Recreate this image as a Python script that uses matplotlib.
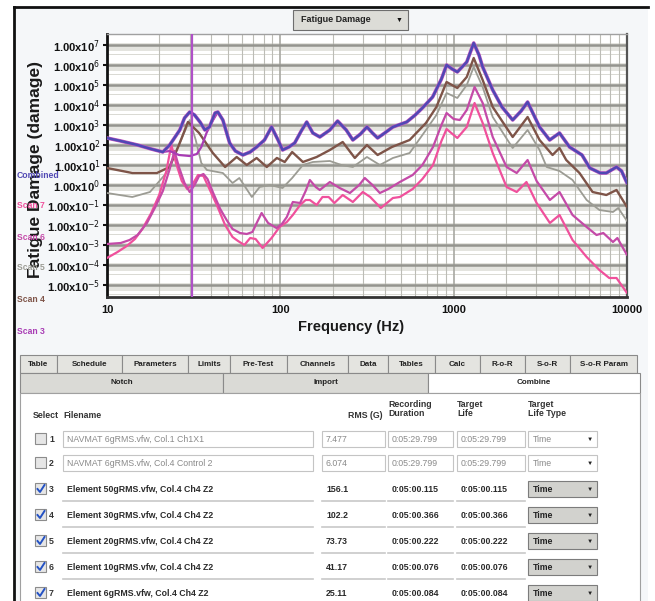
import numpy as np
import matplotlib.pyplot as plt
from matplotlib.patches import Rectangle

plt.rcParams['font.family'] = ['Liberation Sans', 'DejaVu Sans']

W, H = 655, 601

# ---- chart data: frequency (Hz) and log10 of fatigue damage
combined_f = [10, 12, 15, 18, 21, 23, 26.3, 28, 30, 32, 34.4, 36.7, 39, 42, 43.6, 46.6, 51, 55, 60.8, 67,
              73, 81, 89, 97, 103, 112, 121, 132, 142, 154, 169, 193, 214, 240, 262, 290, 316, 340, 364, 400,
              446, 536, 600, 660, 756, 850, 910, 980, 1050, 1190, 1305, 1400, 1470, 1680, 1900, 2190, 2450,
              2670, 2900, 3130, 3580, 4080, 4660, 5500, 6100, 7000, 7600, 8700, 9300, 10000]
combined_e = [2.35, 2.2, 2.0, 1.8, 1.65, 2.0, 2.75, 3.35, 3.65, 3.5, 3.15, 2.75, 2.9, 3.6, 3.65, 3.25, 2.1, 1.7,
              1.5, 1.65, 1.9, 2.25, 2.9, 2.25, 1.75, 1.9, 2.1, 2.7, 3.15, 2.6, 2.4, 2.75, 3.2, 2.75, 2.25, 2.55,
              2.9, 2.6, 2.35, 2.6, 2.9, 3.15, 3.5, 3.85, 4.4, 5.3, 6.0, 5.8, 5.65, 6.15, 7.1, 6.5, 5.9, 4.75,
              3.9, 3.25, 3.7, 4.15, 3.5, 2.9, 2.25, 2.6, 1.9, 1.5, 0.85, 0.6, 0.6, 0.9, 0.7, 0.1]

# scan 3 follows the combined curve except for a dip under the first peak
scan3_dip_f = [21, 23, 26, 30, 33, 35, 37.5, 40, 43.6]
scan3_dip_e = [1.65, 1.7, 1.5, 1.45, 1.55, 1.9, 2.6, 3.1, 3.65]

scan4_f = [10, 14, 19.4, 23, 26, 29.3, 34, 40.8, 48, 56, 64, 73, 83.5, 95.5, 106, 117, 135, 162, 193, 229,
           269, 316, 364, 440, 557, 692, 795, 910, 1050, 1190, 1305, 1470, 1680, 2190, 2670, 3130, 3720, 4080,
           4460, 5320, 6330, 7600, 8700, 10000]
scan4_e = [0.85, 0.6, 0.6, 0.9, 2.0, 3.15, 2.6, 1.6, 0.9, 1.4, 1.0, 1.35, 0.9, 1.35, 1.15, 1.65, 1.15, 1.4,
           1.75, 2.15, 1.35, 2.0, 1.5, 1.9, 2.25, 3.1, 3.9, 5.15, 4.85, 5.4, 6.35, 5.25, 3.9, 2.4, 3.4, 2.25,
           1.5, 1.85, 1.25, 0.6, -0.35, -0.5, -0.25, -1.1]

scan5_f = [10, 14, 17.7, 22, 26, 30, 32.5, 35, 37.7, 46.6, 53, 58, 68.5, 76, 87, 103, 117, 135, 154, 193,
           225, 262, 316, 375, 446, 557, 692, 795, 910, 1050, 1190, 1305, 1470, 1680, 2190, 2670, 3130, 3440,
           4080, 4850, 5850, 6930, 8300, 8900, 10000]
scan5_e = [-0.4, -0.6, -0.35, 0.6, 2.0, 3.25, 2.25, 1.1, 0.75, 0.6, 0.1, 0.35, -0.6, -0.1, 0.0, -0.15, 0.35,
           1.0, 1.15, 1.2, 1.0, 0.9, 1.4, 1.0, 1.35, 1.6, 2.75, 3.5, 4.6, 4.35, 5.0, 5.9, 4.9, 3.4, 1.85, 2.75,
           1.75, 0.9, 0.7, 0.25, -0.75, -1.25, -1.35, -1.15, -1.8]

scan6_f = [10, 12, 13.5, 15, 17, 19, 21, 23, 24.5, 26, 28, 30, 32, 34, 36, 38, 41, 45, 49, 53, 58.5, 64, 69,
           74, 78, 85, 95, 102, 109, 118, 130, 140, 148, 160, 169, 193, 220, 252, 285, 307, 340, 375, 420, 489,
           580, 660, 760, 850, 910, 1000, 1085, 1190, 1320, 1470, 1680, 2020, 2310, 2670, 3010, 3590, 4080,
           4850, 5850, 6670, 7300, 8300, 8800, 10000]
scan6_e = [-2.95, -2.9, -2.75, -2.5, -1.9, -1.1, -0.3, 0.8, 1.7, 0.9, 0.1, -0.35, 0.0, 0.45, 0.55, 0.3, -0.4,
           -1.2, -1.75, -2.2, -2.4, -2.45, -2.35, -1.8, -1.4, -1.9, -2.15, -1.95, -1.6, -0.85, -0.9, -0.3, 0.25,
           -0.1, -0.25, 0.15, -0.15, -0.4, 0.0, 0.35, 0.0, -0.4, -0.2, 0.15, 0.5, 1.0, 1.9, 3.0, 3.6, 3.3, 3.25,
           3.75, 4.9, 4.1, 2.4, 0.9, 0.6, 1.25, 0.2, -0.75, -0.35, -1.5, -2.1, -2.5, -2.4, -2.85, -2.65, -3.5]

scan7_f = [10, 11.5, 13, 14.5, 16, 18, 20, 22, 23.5, 25, 27, 29, 31, 33.5, 36, 39, 43, 48, 53, 57, 62, 67, 72,
           79, 89, 99, 109, 118, 130, 140, 148, 162, 175, 190, 205, 229, 262, 299, 330, 380, 446, 489, 580, 660,
           760, 850, 910, 1000, 1050, 1190, 1320, 1470, 1680, 2020, 2310, 2630, 3010, 3590, 4080, 4850, 5850,
           6930, 7900, 8700, 10000]
scan7_e = [-3.65, -3.35, -3.05, -2.7, -2.2, -1.4, -0.5, 0.7, 2.0, 1.1, 0.2, -0.2, 0.0, 0.5, 0.45, -0.2, -1.0,
           -2.0, -2.6, -2.8, -3.0, -2.65, -2.7, -3.15, -2.65, -2.1, -1.85, -1.5, -1.0, -0.75, -0.75, -1.0, -0.6,
           -0.6, -0.9, -0.5, -0.85, -0.35, -0.6, -1.15, -0.65, -0.6, -0.2, 0.3, 1.0, 2.2, 2.8, 2.5, 2.35, 2.9,
           4.1, 3.1, 1.6, -0.1, -0.35, 0.15, -0.9, -1.9, -1.5, -2.75, -3.6, -4.25, -4.65, -4.65, -5.4]

cursor_freq = 31
y_exps = [7, 6, 5, 4, 3, 2, 1, 0, -1, -2, -3, -4, -5]
x_ticks = [10, 100, 1000, 10000]
legend_names = ['Combined', 'Scan 7', 'Scan 6', 'Scan 5', 'Scan 4', 'Scan 3']
legend_colors = ['#5048b4', '#f0509c', '#c44aa8', '#9c9c94', '#7e5448', '#a83cb4']

# ---- table panel data
tab_names = ['Table', 'Schedule', 'Parameters', 'Limits', 'Pre-Test', 'Channels', 'Data', 'Tables',
             'Calc', 'R-o-R', 'S-o-R', 'S-o-R Param']
tab_edges = [20, 57, 122, 188, 230, 287, 348, 388, 435, 480, 525, 570, 637]
sub_tabs = ['Notch', 'Import', 'Combine']
filenames = ['NAVMAT 6gRMS.vfw, Col.1 Ch1X1', 'NAVMAT 6gRMS.vfw, Col.4 Control 2',
             'Element 50gRMS.vfw, Col.4 Ch4 Z2', 'Element 30gRMS.vfw, Col.4 Ch4 Z2',
             'Element 20gRMS.vfw, Col.4 Ch4 Z2', 'Element 10gRMS.vfw, Col.4 Ch4 Z2',
             'Element 6gRMS.vfw, Col.4 Ch4 Z2']
rms_vals = ['7.477', '6.074', '156.1', '102.2', '73.73', '41.17', '25.11']
durations = ['0:05:29.799', '0:05:29.799', '0:05:00.115', '0:05:00.366', '0:05:00.222',
             '0:05:00.076', '0:05:00.084']
selected = [False, False, True, True, True, True, True]

fig = plt.figure(figsize=(W / 100, H / 100), dpi=100)

# ---- background / UI layer in pixel coordinates
ui = fig.add_axes([0, 0, 1, 1], zorder=0)
ui.set_xlim(0, W)
ui.set_ylim(H, 0)
ui.axis('off')
ui.add_patch(Rectangle((0, 0), W, H, fc='white', ec='none'))
ui.add_patch(Rectangle((14, 7), 634, 594, fc='#f5f7f9', ec='none'))
ui.plot([14, 648], [7, 7], color='#111111', lw=2)
ui.plot([14, 14], [7, 601], color='#111111', lw=2)

# dropdown above the chart
ui.add_patch(Rectangle((293, 10), 115, 20, fc='#dcdcd7', ec='#6e6e6e', lw=0.8))
ui.text(301, 20, 'Fatigue Damage', fontsize=6.5, fontweight='bold', color='#222', va='center')
ui.text(399, 20, '\u25bc', fontsize=5, color='#111', va='center', ha='center')

# axis title and series names on the left (they overlap in the original screen too)
ui.text(36, 170, 'Fatigue Damage (damage)', rotation=90, fontsize=12.5, fontweight='bold',
        color='#1a1a1a', ha='center', va='center')
for name, col, yy in zip(legend_names, legend_colors, [175, 206, 237, 267, 300, 331]):
    ui.text(17, yy, name, fontsize=6.2, fontweight='bold', color=col, va='center', ha='left')
ui.text(351, 327, 'Frequency (Hz)', fontsize=10.5, fontweight='bold', color='#1a1a1a',
        ha='center', va='center')

# tab strips
for i, name in enumerate(tab_names):
    x0, x1 = tab_edges[i], tab_edges[i + 1]
    ui.add_patch(Rectangle((x0, 355), x1 - x0, 18, fc='#e4e4e0', ec='#8a8a8a', lw=0.8))
    ui.text((x0 + x1) / 2, 364.5, name, fontsize=5.8, fontweight='bold', color='#222',
            ha='center', va='center')
sub_edges = [20, 223, 428, 640]
sub_fc = ['#dadad6', '#dadad6', 'white']
for i, name in enumerate(sub_tabs):
    x0, x1 = sub_edges[i], sub_edges[i + 1]
    ui.add_patch(Rectangle((x0, 373), x1 - x0, 20, fc=sub_fc[i], ec='#8a8a8a', lw=0.8))
    ui.text((x0 + x1) / 2, 383, name, fontsize=5.8, fontweight='bold', color='#222',
            ha='center', va='center')
ui.add_patch(Rectangle((20, 393), 620, 210, fc='white', ec='#a0a0a0', lw=0.8))

# column headers
hdr = dict(fontsize=6.3, fontweight='bold', color='#333', va='center')
ui.text(33, 416, 'Select', ha='left', **hdr)
ui.text(63, 416, 'Filename', ha='left', **hdr)
ui.text(383, 416, 'RMS (G)', ha='right', **hdr)
ui.text(388, 409, 'Recording\nDuration', ha='left', linespacing=1.1, **hdr)
ui.text(457, 409, 'Target\nLife', ha='left', linespacing=1.1, **hdr)
ui.text(528, 409, 'Target\nLife Type', ha='left', linespacing=1.1, **hdr)

# table rows
row_y = [439, 463, 489, 515, 541, 567, 593]
cols = [(63, 250), (322, 63), (388, 65), (457, 68)]
for k, yc in enumerate(row_y):
    on = selected[k]
    ui.add_patch(Rectangle((35, yc - 6), 11, 11, fc='#e6e6e6', ec='#8c8c8c', lw=0.8))
    if on:
        ui.plot([37.5, 40, 44.5], [yc, yc + 3, yc - 4], color='#2452c4', lw=1.4)
    ui.text(49, yc, str(k + 1), fontsize=6.3, fontweight='bold', color='#333', va='center')
    vals = [filenames[k], rms_vals[k], durations[k], durations[k]]
    for (x0, w), v in zip(cols, vals):
        if on:
            ui.plot([x0, x0 + w], [yc + 12, yc + 12], color='#c8c8c8', lw=1.2)
            ui.text(x0 + 4, yc, v, fontsize=6.3, fontweight='bold', color='#2a2a2a', va='center')
        else:
            ui.add_patch(Rectangle((x0, yc - 8), w, 16, fc='white', ec='#c4c4c4', lw=0.8))
            ui.text(x0 + 4, yc, v, fontsize=6.3, color='#8a8a8a', va='center')
    if on:
        ui.add_patch(Rectangle((528, yc - 8), 69, 16, fc='#d2d2ce', ec='#7c7c7c', lw=0.8))
        ui.text(533, yc, 'Time', fontsize=6.3, fontweight='bold', color='#222', va='center')
    else:
        ui.add_patch(Rectangle((528, yc - 8), 69, 16, fc='white', ec='#c4c4c4', lw=0.8))
        ui.text(533, yc, 'Time', fontsize=6.3, color='#8a8a8a', va='center')
    ui.text(590, yc, '\u25bc', fontsize=4.5, color='#222', va='center', ha='center')

# ---- the chart
ax = fig.add_axes([107 / W, 1 - 297 / H, (627 - 107) / W, (297 - 34) / H], zorder=1)
ax.set_facecolor('white')
ax.set_xscale('log')
ax.set_yscale('log')
ax.set_xlim(10, 10000)
ax.set_ylim(10 ** -5.6, 10 ** 7.55)

# banded horizontal grid
for p in y_exps + [-6]:
    ax.axhspan(10 ** (p - 0.28), 10 ** (p + 0.1), color='#e4e4df', lw=0, zorder=0)
    ax.axhspan(10 ** (p - 0.5), 10 ** (p - 0.45), color='#dadad4', lw=0, zorder=0)
ax.set_yticks([10.0 ** p for p in y_exps])
ax.set_yticklabels([r'1.00x10$^{%d}$' % p for p in y_exps])
ax.set_yticks([], minor=True)
ax.set_xticks(x_ticks)
ax.set_xticklabels([str(t) for t in x_ticks])
ax.grid(True, which='major', axis='y', color='#94948e', lw=1.8, zorder=0.5)
ax.grid(True, which='major', axis='x', color='#a8a8a2', lw=1.2, zorder=0.5)
ax.set_xticks([m * 10 ** d for d in (1, 2, 3) for m in range(2, 10)], minor=True)
ax.grid(True, which='minor', axis='x', color='#bcbcb6', lw=0.8, zorder=0.5)
ax.tick_params(axis='y', which='major', labelsize=8, length=3, width=1.5, color='#111', pad=2,
               labelcolor='#111')
ax.tick_params(axis='x', which='both', length=0, labelsize=8, pad=6, labelcolor='#111')
for lab in ax.get_yticklabels() + ax.get_xticklabels():
    lab.set_fontweight('bold')
ax.spines['left'].set_color('#111')
ax.spines['left'].set_linewidth(2)
ax.spines['bottom'].set_color('#333')
ax.spines['bottom'].set_linewidth(2)
ax.spines['right'].set_color('#555')
ax.spines['right'].set_linewidth(1.6)
ax.spines['top'].set_color('#a0a0a0')
ax.spines['top'].set_linewidth(1)


def dmg(e):
    return 10.0 ** np.array(e)


line_kw = dict(solid_joinstyle='round', solid_capstyle='round')
ax.plot(scan5_f, dmg(scan5_e), color=legend_colors[3], lw=1.3, zorder=3, **line_kw)
ax.plot(scan4_f, dmg(scan4_e), color=legend_colors[4], lw=1.7, zorder=3, **line_kw)
ax.plot(scan7_f, dmg(scan7_e), color=legend_colors[1], lw=1.6, zorder=3, **line_kw)
ax.plot(scan6_f, dmg(scan6_e), color=legend_colors[2], lw=1.6, zorder=3, **line_kw)
ax.plot(scan3_dip_f, dmg(scan3_dip_e), color=legend_colors[5], lw=1.6, zorder=3, **line_kw)
ax.plot(combined_f, dmg(combined_e), color='#c458c0', lw=2.6, zorder=4, **line_kw)
ax.plot(combined_f, dmg(combined_e), color=legend_colors[0], lw=1.8, zorder=5, **line_kw)
ax.axvline(cursor_freq, color='#b050c8', lw=1.6, zorder=6)

fig.savefig('out.png', dpi=100)
